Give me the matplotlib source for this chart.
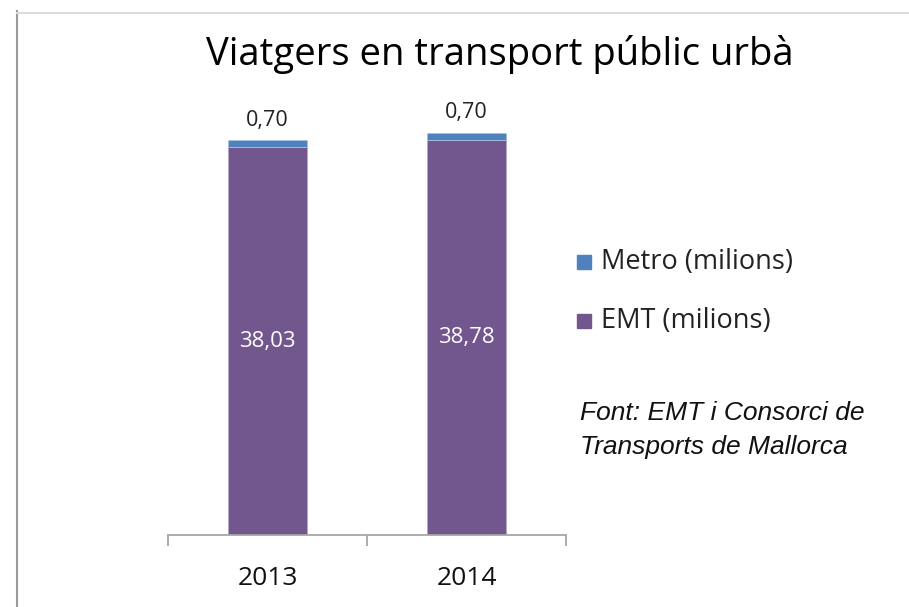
import matplotlib
matplotlib.use("Agg")
import matplotlib.pyplot as plt
from matplotlib.lines import Line2D
from matplotlib.patches import Rectangle

years = ["2013", "2014"]
emt = [38.03, 38.78]
metro = [0.70, 0.70]
emt_labels = ["38,03", "38,78"]
metro_labels = ["0,70", "0,70"]

W, H = 909, 607
fig = plt.figure(figsize=(W / 100, H / 100), dpi=100)
plt.rcParams['font.family'] = ['Open Sans', 'DejaVu Sans']

def fx(px):
    return px / W

def fy(py):
    return 1 - py / H

# outer frame
fig.add_artist(Line2D([fx(16.5), fx(16.5)], [fy(11), fy(607)], color="#9a9a9a", lw=1.5))
fig.add_artist(Line2D([fx(17), fx(909)], [fy(12.5), fy(12.5)], color="#dcdcdc", lw=1.5))

ax = fig.add_axes([fx(168), fy(535), fx(566) - fx(168), (535 - 107) / H])
ymax = 42
ax.set_xlim(-0.5, 1.5)
ax.set_ylim(0, ymax)

x = range(len(years))
c_emt = "#72578E"
c_metro = "#4F81BD"
ax.bar(x, emt, width=0.4, color=c_emt, edgecolor="#b3a6c8", linewidth=0.6)
ax.bar(x, metro, bottom=emt, width=0.4, color=c_metro, edgecolor="#a9c1e0", linewidth=0.6)

for i in x:
    ax.text(i, emt[i] / 2, emt_labels[i], ha="center", va="center", color="white", fontsize=16)
    ax.annotate(metro_labels[i], (i, emt[i] + metro[i]), xytext=(0, 7), textcoords="offset points",
                ha="center", va="bottom", fontsize=15.5, color="#222222")

for s in ["top", "right", "left"]:
    ax.spines[s].set_visible(False)
ax.spines["bottom"].set_color("#a6a6a6")
ax.spines["bottom"].set_linewidth(1.3)
ax.set_yticks([])
ax.set_xticks(list(x))
ax.set_xticklabels(years, fontsize=19, color="#111111")
ax.tick_params(axis="x", which="major", length=0, pad=22)
ax.set_xticks([-0.5, 0.5, 1.5], minor=True)
ax.tick_params(axis="x", which="minor", length=8, color="#a6a6a6", width=1.3, direction="out")

fig.text(fx(500), fy(55), "Viatgers en transport públic urbà", ha="center", va="center",
         fontsize=27.5, color="#000000", weight="medium")

# legend
for py, col, lab in [(262, c_metro, "Metro (milions)"), (321, c_emt, "EMT (milions)")]:
    fig.add_artist(Rectangle((fx(577), fy(py + 7)), fx(14), 14 / H, color=col))
    fig.text(fx(601), fy(py), lab, ha="left", va="center", fontsize=19.5, color="#222222")

fig.text(fx(580), fy(413), "Font: EMT i Consorci de", ha="left", va="center", fontsize=19,
         style="italic", family="Liberation Sans", color="#111111")
fig.text(fx(580), fy(447), "Transports de Mallorca", ha="left", va="center", fontsize=19,
         style="italic", family="Liberation Sans", color="#111111")

fig.savefig("out.png", dpi=100, facecolor="white")
